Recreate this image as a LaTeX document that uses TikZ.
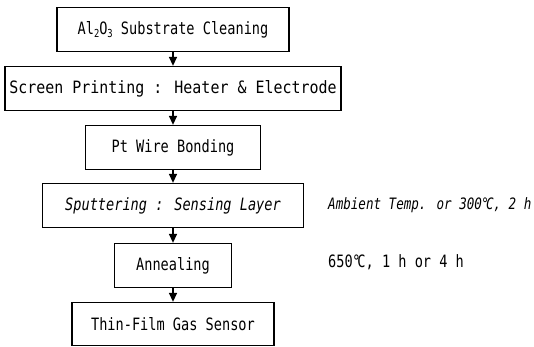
\documentclass[tikz,border=0pt]{standalone}
\usepackage{fontspec}
\usetikzlibrary{arrows.meta}
\newfontfamily\gf[FakeStretch=0.8]{DejaVu Sans Mono}
\newcommand\subnum[1]{\raisebox{-0.22em}{\fontsize{11}{11}\selectfont #1}}
\newcommand\degc{\kern-0.5pt°\kern-3pt C}
\tikzset{
  stepbox/.style={draw=black, line width=1.3pt, inner sep=0pt, minimum height=44pt,
    font=\gf\fontsize{17}{19}\selectfont, anchor=center},
  flow/.style={line width=1.4pt, -{Triangle[width=8pt,length=9pt]}},
  note/.style={anchor=west, inner sep=0pt}
}
\begin{document}
\begin{tikzpicture}[x=1pt,y=1pt]
\useasboundingbox (0,0) rectangle (534,347);
\node[stepbox, minimum width=232pt] (b1) at (173,317.5) {Al\subnum{2}O\subnum{3} Substrate Cleaning};
\node[stepbox, minimum width=336pt] (b2) at (173,258.5) {\scalebox{1.1}[1]{Screen Printing : Heater \& Electrode}};
\node[stepbox, minimum width=175pt] (b3) at (173,199.5) {Pt Wire Bonding};
\node[stepbox, minimum width=261pt] (b4) at (173,141.5) {\itshape Sputtering : Sensing Layer};
\node[stepbox, minimum width=117pt] (b5) at (173,81.5) {Annealing};
\node[stepbox, minimum width=202pt, minimum height=43pt] (b6) at (173,23) {Thin-Film Gas Sensor};
\draw[flow] (b1) -- (b2);
\draw[flow] (b2) -- (b3);
\draw[flow] (b3) -- (b4);
\draw[flow] (b4) -- (b5);
\draw[flow] (b5) -- (b6);
\node[note, font=\gf\itshape\fontsize{15.7}{17}\selectfont] (n1) at (328,142) {Ambient Temp. or 300\degc, 2 h};
\node[note, font=\gf\fontsize{17}{19}\selectfont] (n2) at (328,85) {650\degc, 1 h or 4 h};
\end{tikzpicture}
\end{document}
